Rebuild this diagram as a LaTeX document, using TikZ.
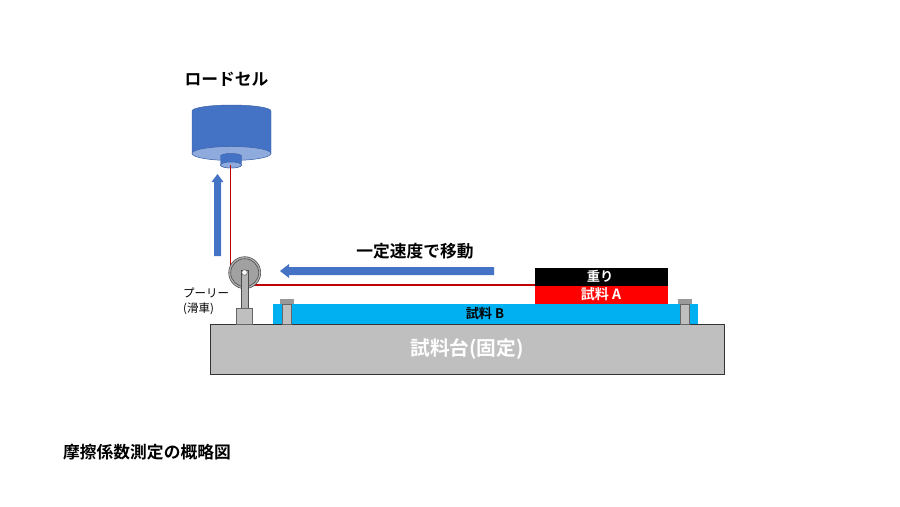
\documentclass[tikz,border=0pt]{standalone}
\usepackage{fontspec}
\setmainfont{Noto Sans CJK JP}
\newfontfamily\jpbold{Noto Sans CJK JP Bold}
\definecolor{cellblue}{HTML}{4472C4}
\definecolor{celllight}{HTML}{8FAADC}
\definecolor{wirered}{HTML}{C00000}
\definecolor{tablegray}{HTML}{BFBFBF}
\definecolor{sampleblue}{HTML}{00B0F0}
\tikzset{
	block/.style={inner sep=0pt,outer sep=0pt,anchor=north west},
	caption/.style={inner sep=0pt,font=\fontsize{14.3}{15}\selectfont\jpbold},
	partlabel/.style={inner sep=0pt,font=\fontsize{11.3}{12}\selectfont\jpbold},
	small/.style={inner sep=0pt,align=left,font=\fontsize{9.8}{12.6}\selectfont},
}
\begin{document}
\begin{tikzpicture}[x=.3mm,y=-.3mm]
\useasboundingbox (0,0) rectangle (900,506);

% table and samples
\node[block,draw=black!80,line width=.6pt,fill=tablegray,minimum width=513.5*.3mm,minimum height=50*.3mm] (tbl) at (210.5,324) {};
\node[inner sep=0pt,text=white,font=\fontsize{16.8}{17}\selectfont\jpbold] (tbllabel) at (467,349) {試料台(固定)};
\node[block,fill=sampleblue,minimum width=425*.3mm,minimum height=20*.3mm] (smpb) at (273,304) {};
\node[partlabel] (smpblabel) at (485,313) {試料 B};
\node[block,fill=red,minimum width=133*.3mm,minimum height=18*.3mm] (smpa) at (535,286) {};
\node[partlabel,text=white,font=\fontsize{12}{12}\selectfont\jpbold] (smpalabel) at (601,294.5) {試料 A};
\node[block,fill=black,minimum width=133*.3mm,minimum height=18*.3mm] (wgt) at (535,268) {};
\node[partlabel,text=white] (wgtlabel) at (600,276.5) {重り};

% bolts
\foreach \bx in {282,680}{
	\filldraw[draw=black!60,fill=tablegray,line width=.4pt] (\bx,304) rectangle (\bx+9,324);
	\filldraw[draw=black!40,fill=black!40,line width=.4pt] (\bx-2,299.5) rectangle (\bx+11,303.5);
}

% wire
\coordinate (wiretop) at (230.5,166);
\coordinate (wiredown) at (230.5,270);
\coordinate (wireleft) at (250,285);
\coordinate (wireright) at (535,285);
\draw[wirered,line width=1pt] (wiretop) -- (wiredown);
\draw[wirered,line width=1pt] (wireleft) -- (wireright);

% load cell
\filldraw[draw=cellblue!85!black,fill=cellblue,line width=.4pt] (192,111) arc[start angle=180,end angle=360,x radius=39.5,y radius=6] -- (271,153) arc[start angle=0,end angle=180,x radius=39.5,y radius=7] -- cycle;
\filldraw[draw=cellblue!85!black,fill=celllight,line width=.4pt] (231.5,153.5) ellipse[x radius=39.5,y radius=7];
\filldraw[draw=cellblue!85!black,fill=cellblue,line width=.4pt] (220.5,156) arc[start angle=180,end angle=360,x radius=10.5,y radius=2.5] -- (241.5,165) arc[start angle=0,end angle=180,x radius=10.5,y radius=3] -- cycle;
\filldraw[draw=cellblue!85!black,fill=celllight,line width=.4pt] (231,165) ellipse[x radius=10.5,y radius=3];
\draw[wirered,line width=1pt] (230.5,165) -- (230.5,174);

% pulley
\filldraw[draw=black!70,fill=black!30,line width=.5pt] (244.7,272.7) circle (16);
\filldraw[draw=black!70,fill=black!37,line width=.5pt] (244.7,272.7) circle (14);
\filldraw[draw=black!70,fill=black!30,line width=.4pt] (241,270) rectangle (248.5,308);
\filldraw[draw=black!70,fill=white,line width=.4pt] (244.5,272.5) circle (2.8);
\filldraw[draw=black!60,fill=tablegray,line width=.5pt] (236,308) rectangle (252,324);

% motion arrows
\fill[cellblue] (214,256) -- (214,182) -- (211.5,182) -- (217.5,174) -- (223.5,182) -- (221,182) -- (221,256) -- cycle;
\fill[cellblue] (494,267) -- (289,267) -- (289,264) -- (280,271) -- (289,278) -- (289,275) -- (494,275) -- cycle;

% labels
\node[caption] (celllabel) at (226.5,79) {ロードセル};
\node[caption] (movelabel) at (415,251) {一定速度で移動};
\node[small,anchor=north west] (pulleylabel) at (183,287.5) {プーリー\\(滑車)};
\node[caption,anchor=west] (titlelabel) at (63,452) {摩擦係数測定の概略図};

\end{tikzpicture}
\end{document}
